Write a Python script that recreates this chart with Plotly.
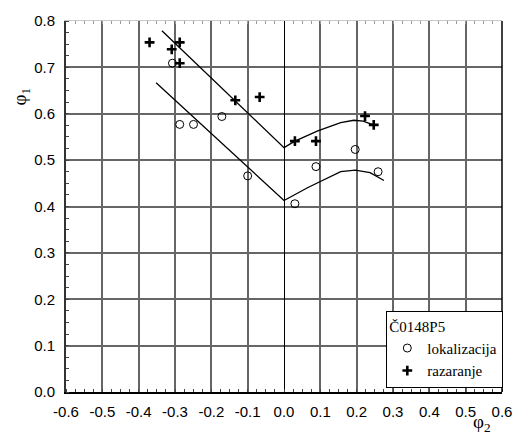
import plotly.graph_objects as go

# Measured points: localization (open circles) and failure (crosses)
lok_x = [-0.307, -0.287, -0.249, -0.171, -0.100, 0.030, 0.088, 0.196, 0.259]
lok_y = [0.709, 0.577, 0.577, 0.594, 0.466, 0.406, 0.486, 0.523, 0.475]

raz_x = [-0.370, -0.309, -0.287, -0.287, -0.134, -0.067, 0.030, 0.088, 0.223, 0.247]
raz_y = [0.754, 0.739, 0.754, 0.709, 0.629, 0.636, 0.541, 0.541, 0.595, 0.576]

# Envelope curves
upper_x = [-0.336, 0.0, 0.030, 0.093, 0.156, 0.192, 0.218, 0.246]
upper_y = [0.779, 0.527, 0.541, 0.563, 0.581, 0.586, 0.584, 0.576]

lower_x = [-0.352, 0.0, 0.066, 0.156, 0.196, 0.237, 0.275]
lower_y = [0.667, 0.413, 0.441, 0.475, 0.4785, 0.473, 0.456]

x_ticks = [-0.6, -0.5, -0.4, -0.3, -0.2, -0.1, 0.0, 0.1, 0.2, 0.3, 0.4, 0.5, 0.6]
y_ticks = [0.0, 0.1, 0.2, 0.3, 0.4, 0.5, 0.6, 0.7, 0.8]

legend_title = "Č0148P5"
name_lok = "lokalizacija"
name_raz = "razaranje"

fig = go.Figure()

fig.add_trace(go.Scatter(x=upper_x, y=upper_y, mode="lines",
                         line=dict(color="black", width=1.3), showlegend=False,
                         hoverinfo="skip"))
fig.add_trace(go.Scatter(x=lower_x, y=lower_y, mode="lines",
                         line=dict(color="black", width=1.3), showlegend=False,
                         hoverinfo="skip"))

fig.add_trace(go.Scatter(x=lok_x, y=lok_y, mode="markers", name=name_lok,
                         marker=dict(symbol="circle-open", size=8, color="black",
                                     line=dict(width=1))))
fig.add_trace(go.Scatter(x=raz_x, y=raz_y, mode="markers", name=name_raz,
                         marker=dict(symbol="cross-thin", size=7, color="black",
                                     line=dict(width=2.6, color="black"))))

# helper trace for the top (mirror) axis with minor ticks
fig.add_trace(go.Scatter(x=[x_ticks[0]], y=[y_ticks[0]], xaxis="x2", mode="markers",
                         marker=dict(opacity=0), showlegend=False, hoverinfo="skip"))

tick_font = dict(family="Liberation Sans, Arial, sans-serif", size=15, color="black")
serif = "Liberation Serif, Times New Roman, serif"

fig.update_layout(
    width=524, height=434,
    margin=dict(l=66, r=13, t=19, b=42),
    paper_bgcolor="white", plot_bgcolor="white",
    xaxis=dict(
        range=[-0.6, 0.6], tickvals=x_ticks,
        ticktext=[f"{v:.1f}" for v in x_ticks],
        tickfont=tick_font, showgrid=True, gridcolor="#666666", gridwidth=2,
        zeroline=True, zerolinecolor="black", zerolinewidth=1,
        showline=True, linecolor="black", linewidth=1.5,
        ticks="", ticklabelstandoff=5,
        minor=dict(dtick=0.025, tick0=0, ticks="inside", ticklen=3,
                   tickcolor="#444444", tickwidth=1, showgrid=False),
    ),
    xaxis2=dict(
        range=[-0.6, 0.6], overlaying="x", side="top", matches="x",
        showgrid=False, zeroline=False, showticklabels=False,
        showline=True, linecolor="#c8c8c8", linewidth=1, ticks="",
        minor=dict(dtick=0.025, tick0=0, ticks="inside", ticklen=3,
                   tickcolor="#999999", tickwidth=1, showgrid=False),
    ),
    yaxis=dict(
        range=[0.0, 0.8], tickvals=y_ticks,
        ticktext=[f"{v:.1f}" for v in y_ticks],
        tickfont=tick_font, showgrid=True, gridcolor="#666666", gridwidth=2,
        zeroline=False,
        showline=True, linecolor="#333333", linewidth=2,
        ticks="", ticklabelstandoff=6,
        minor=dict(dtick=0.025, tick0=0, ticks="inside", ticklen=3,
                   tickcolor="#444444", tickwidth=1, showgrid=False),
    ),
    legend=dict(
        title=dict(text=legend_title, font=dict(family=serif, size=15, color="black")),
        font=dict(family=serif, size=15, color="black"),
        x=1.003, xanchor="right", y=0.01, yanchor="bottom",
        bgcolor="white", bordercolor="black", borderwidth=1,
        tracegroupgap=0,
    ),
    shapes=[
        dict(type="line", xref="paper", yref="paper", x0=1, x1=1, y0=0, y1=1,
             line=dict(color="black", width=1.5)),
    ],
    annotations=[
        dict(text="φ<sub>1</sub>", xref="paper", yref="paper",
             x=-0.103, y=0.797, xanchor="center", yanchor="middle",
             showarrow=False, textangle=-90,
             font=dict(family=serif, size=19, color="black")),
        dict(text="φ<sub>2</sub>", xref="paper", yref="paper",
             x=0.955, y=-0.084, xanchor="center", yanchor="middle",
             showarrow=False,
             font=dict(family=serif, size=19, color="black")),
    ],
)

fig.write_html("out.html")
